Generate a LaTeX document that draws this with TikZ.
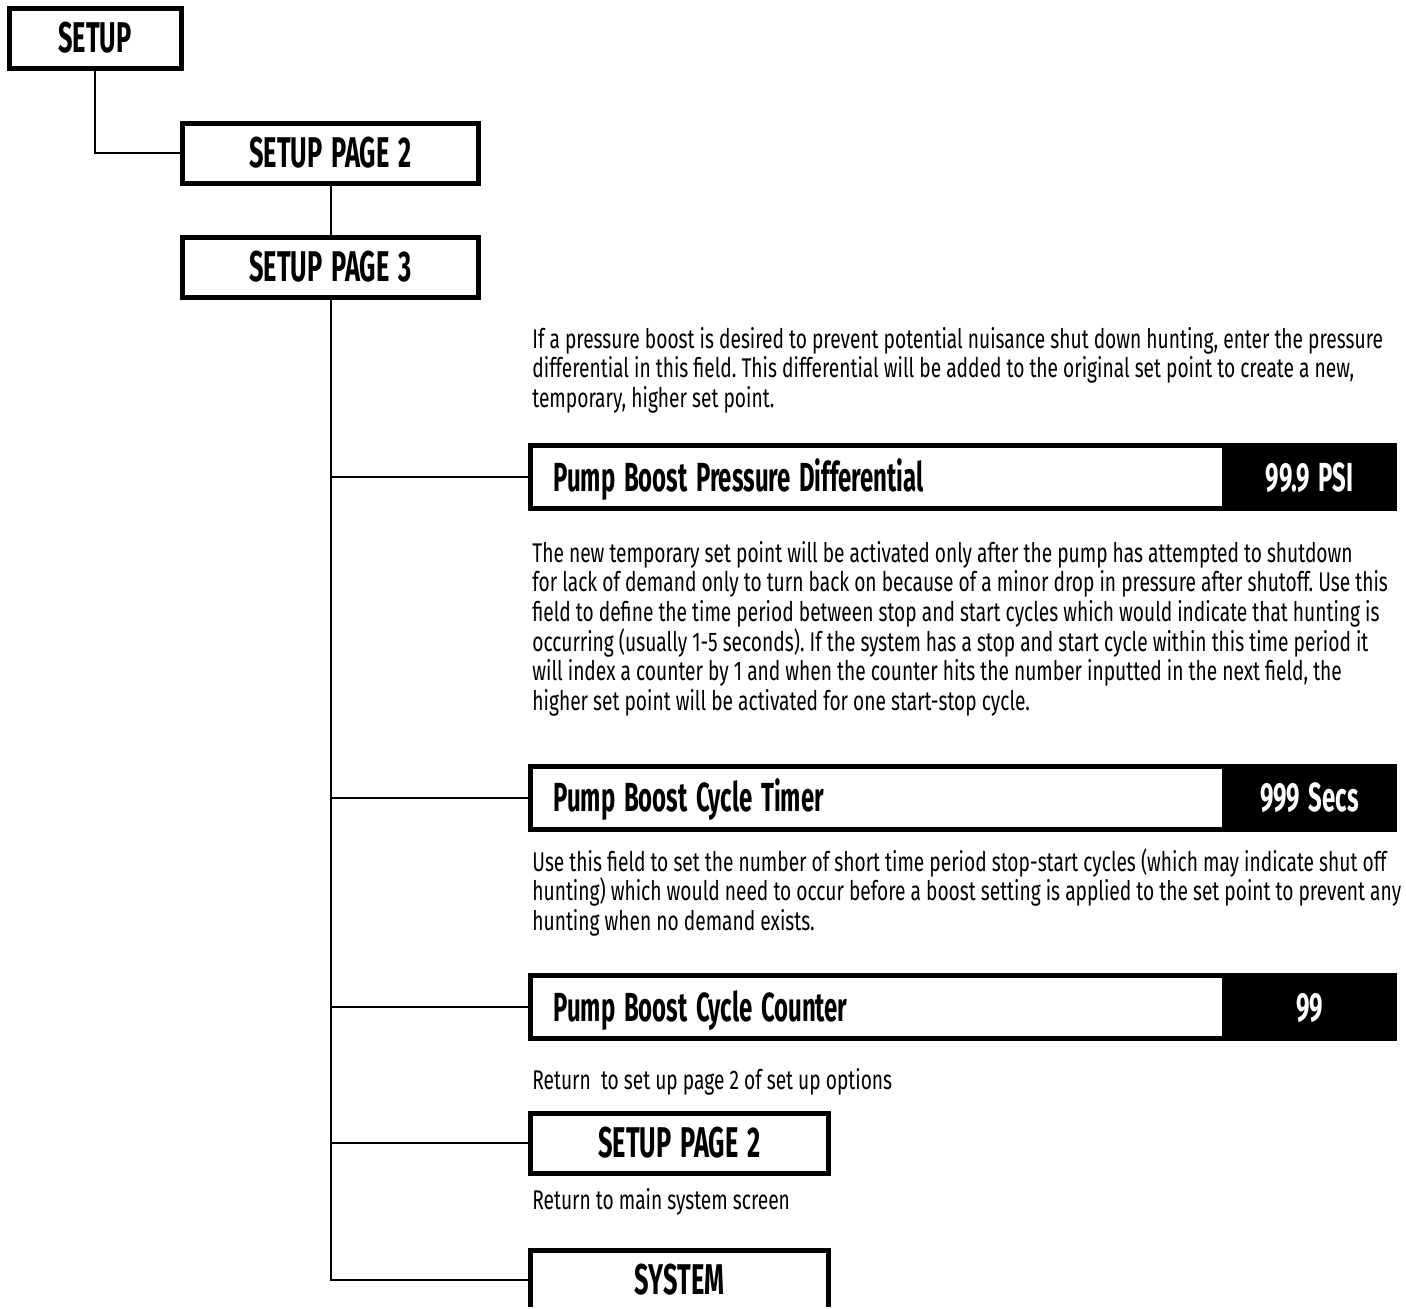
\documentclass[tikz,border=0pt]{standalone}
\usepackage{fontspec}
\setmainfont{Fira Sans}[FakeStretch=0.71]
\newfontfamily\headfont{Fira Sans}[FakeStretch=0.59, WordSpace=1.5]
\usepackage{tikz}
\usetikzlibrary{positioning}
\frenchspacing

\begin{document}
\begin{tikzpicture}[
    x=0.5pt, y=-0.5pt,
    menubox/.style={rectangle, draw, line width=2.5pt, fill=white, minimum width=148pt, minimum height=30pt, inner sep=0pt, font=\headfont\bfseries\fontsize{21.5pt}{24pt}\selectfont},
    fieldbar/.style={rectangle, draw, line width=2.5pt, fill=white, minimum width=432pt, minimum height=31.5pt, text width=409pt, align=left, inner xsep=11.5pt, inner ysep=0pt, text height=14pt, text depth=0pt, execute at begin node={\spaceskip=0pt\xspaceskip=0pt\relax}, font=\headfont\bfseries\fontsize{20.3pt}{24pt}\selectfont},
    readout/.style={rectangle, fill=black, text=white, minimum width=87.5pt, minimum height=34pt, inner sep=0pt, text height=14pt, text depth=0pt, font=\headfont\bfseries\fontsize{20.3pt}{24pt}\selectfont},
    helptext/.style={anchor=base west, inner sep=0pt, text width=480pt, align=left, execute at begin node={\spaceskip=0pt\xspaceskip=0pt\relax}, font=\fontsize{13.5pt}{14.85pt}\selectfont},
    branch/.style={line width=1pt}
]
\useasboundingbox (0,0) rectangle (1406,1308);
\clip (0,0) rectangle (1406,1306);

% Menu pages
\node[menubox, minimum width=86pt] (setup) at (95,38) {SETUP};
\node[menubox] (page2a) at (330.5,153) {SETUP PAGE 2};
\node[menubox] (page3) at (330.5,267) {SETUP PAGE 3};

% Fields
\node[fieldbar] (pbpd) at (962.5,477) {Pump Boost Pressure Differential};
\node[readout] (pbpdval) at (1309.5,477) {99.9 PSI};
\node[fieldbar] (pbct) at (962.5,797.5) {Pump Boost Cycle Timer};
\node[readout] (pbctval) at (1309.5,797.5) {999 Secs};
\node[fieldbar] (pbcc) at (962.5,1007) {Pump Boost Cycle Counter};
\node[readout] (pbccval) at (1309.5,1007) {99};

% Exits
\node[menubox, minimum width=149pt] (page2b) at (679.5,1143) {SETUP PAGE 2};
\node[menubox, minimum width=149pt] (sys) at (679.5,1280) {SYSTEM};

% Help texts
\node[helptext] (txtpbpd) at (532,348) {If a pressure boost is desired to prevent potential nuisance shut down hunting, enter the pressure\\differential in this field. This differential will be added to the original set point to create a new,\\temporary, higher set point.};
\node[helptext] (txtpbct) at (532,562) {The new temporary set point will be activated only after the pump has attempted to shutdown\\for lack of demand only to turn back on because of a minor drop in pressure after shutoff. Use this\\field to define the time period between stop and start cycles which would indicate that hunting is\\occurring (usually 1-5 seconds). If the system has a stop and start cycle within this time period it\\will index a counter by 1 and when the counter hits the number inputted in the next field, the\\higher set point will be activated for one start-stop cycle.};
\node[helptext] (txtpbcc) at (532,871) {Use this field to set the number of short time period stop-start cycles (which may indicate shut off\\hunting) which would need to occur before a boost setting is applied to the set point to prevent any\\hunting when no demand exists.};
\node[helptext] (txtback) at (532,1089) {Return\ \ to set up page 2 of set up options};
\node[helptext] (txtsys) at (532,1209) {Return to main system screen};

% Connectors
\draw[branch] (setup.south) |- (page2a.west);
\draw[branch] (page2a.south) -- (page3.north);
\foreach \t in {pbpd,pbct,pbcc,page2b,sys}
    \draw[branch] (page3.south) |- (\t.west);

\end{tikzpicture}
\end{document}
